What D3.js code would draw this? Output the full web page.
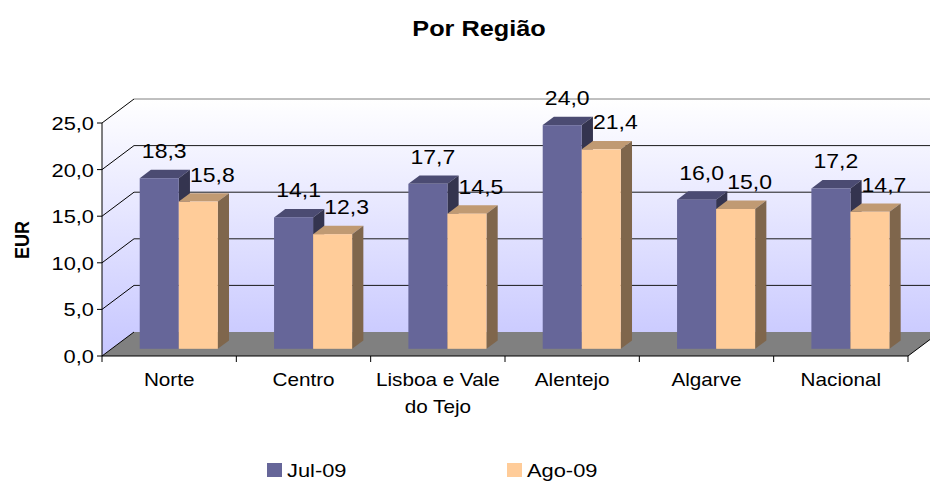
<!DOCTYPE html>
<html>
<head>
<meta charset="utf-8">
<script src="https://cdn.jsdelivr.net/npm/d3@7"></script>
<style>
  body { margin: 0; background: #fff; }
  text { font-family: Arial, "Liberation Sans", sans-serif; fill: #000; }
</style>
</head>
<body>
<div id="chart"></div>
<script>
var categories = ['Norte', 'Centro', 'Lisboa e Vale\ndo Tejo', 'Alentejo', 'Algarve', 'Nacional'];
var series = ['Jul-09', 'Ago-09'];
var jul = [18.3, 14.1, 17.7, 24.0, 16.0, 17.2];
var ago = [15.8, 12.3, 14.5, 21.4, 15.0, 14.7];
var yTicks = [0, 5, 10, 15, 20, 25];

var W = 930, H = 481;
var SX = 1.15; // the picture is a bit stretched sideways

// front plane of the plot, and the depth offset to the back wall
var plotLeft = 102, plotRight = 908, plotBottom = 356, plotTop = 123;
var depth = { x: 32, y: -24 };
var t0 = 0.3, t1 = 0.65; // bars sit between these depth fractions

var fill = {
  'Jul-09': { front: '#666699', top: '#4b4b72', side: '#34344f' },
  'Ago-09': { front: '#ffcc99', top: '#c09a73', side: '#7f664c' }
};

var loc = d3.formatLocale({ decimal: ',', thousands: '.', grouping: [3], currency: ['', ' €'] });
var fmt = loc.format('.1f');

var svg = d3.select('#chart').append('svg')
    .attr('width', W)
    .attr('height', H);

var x = d3.scaleBand().domain(categories).range([plotLeft, plotRight]);
var y = d3.scaleLinear().domain([0, 25]).range([plotBottom, plotTop]);
var xs = d3.scaleBand().domain(series).range([0, x.bandwidth()]).paddingOuter(0.72);

function stext(g, px, py, txt, size, anchor, weight, rot) {
  return g.append('text')
    .attr('transform', 'translate(' + px + ',' + py + ') scale(' + SX + ',1)' + (rot ? ' rotate(' + rot + ')' : ''))
    .attr('font-size', size)
    .attr('font-weight', weight || 'normal')
    .attr('text-anchor', anchor || 'start')
    .text(txt);
}

var defs = svg.append('defs');
var grad = defs.append('linearGradient')
    .attr('id', 'wall')
    .attr('gradientUnits', 'userSpaceOnUse')
    .attr('x1', 0).attr('x2', 0)
    .attr('y1', y(25) + depth.y).attr('y2', y(0));
grad.append('stop').attr('offset', '0%').attr('stop-color', '#ffffff');
grad.append('stop').attr('offset', '100%').attr('stop-color', '#c6c6ff');

// walls
var bx = plotLeft + depth.x, by = depth.y;
svg.append('polygon')
    .attr('points', [[bx, y(0) + by], [plotRight + depth.x, y(0) + by], [plotRight + depth.x, y(25) + by], [bx, y(25) + by]].join(' '))
    .attr('fill', 'url(#wall)');
svg.append('polygon')
    .attr('points', [[plotLeft, y(0)], [bx, y(0) + by], [bx, y(25) + by], [plotLeft, y(25)]].join(' '))
    .attr('fill', 'url(#wall)');

// floor
svg.append('polygon')
    .attr('points', [[plotLeft, y(0)], [plotRight, y(0)], [plotRight + depth.x, y(0) + by], [bx, y(0) + by]].join(' '))
    .attr('fill', '#808080');

// gridlines
yTicks.forEach(function (v) {
  if (v === 0) return;
  svg.append('line')
    .attr('x1', bx).attr('x2', plotRight + depth.x)
    .attr('y1', y(v) + by).attr('y2', y(v) + by)
    .attr('stroke', v === 25 ? '#808080' : '#1a1a1a')
    .attr('stroke-width', 1);
});
yTicks.forEach(function (v) {
  svg.append('line')
    .attr('x1', plotLeft).attr('y1', y(v))
    .attr('x2', bx).attr('y2', y(v) + by)
    .attr('stroke', '#000').attr('stroke-width', 1);
});

// front axes
svg.append('line').attr('x1', plotLeft).attr('x2', plotLeft).attr('y1', y(0)).attr('y2', y(25)).attr('stroke', '#000');
svg.append('line').attr('x1', plotLeft).attr('x2', plotRight).attr('y1', y(0)).attr('y2', y(0)).attr('stroke', '#000');
svg.append('line').attr('x1', plotRight).attr('y1', y(0)).attr('x2', plotRight + depth.x).attr('y2', y(0) + by).attr('stroke', '#000');

yTicks.forEach(function (v) {
  svg.append('line').attr('x1', plotLeft - 5).attr('x2', plotLeft).attr('y1', y(v)).attr('y2', y(v)).attr('stroke', '#000');
  stext(svg, plotLeft - 8, y(v) + 7, fmt(v), 19, 'end');
});

categories.forEach(function (c, i) {
  svg.append('line').attr('x1', x(c)).attr('x2', x(c)).attr('y1', y(0)).attr('y2', y(0) + 6).attr('stroke', '#000');
  if (i === categories.length - 1) {
    svg.append('line').attr('x1', plotRight).attr('x2', plotRight).attr('y1', y(0)).attr('y2', y(0) + 6).attr('stroke', '#000');
  }
  c.split('\n').forEach(function (line, k) {
    stext(svg, x(c) + x.bandwidth() / 2, 386 + k * 27, line, 18, 'middle');
  });
});

// bars
var d0 = { x: depth.x * t0, y: depth.y * t0 };
var d1 = { x: depth.x * t1, y: depth.y * t1 };
var barData = [];
categories.forEach(function (c, i) {
  barData.push({ cat: c, s: 'Jul-09', v: jul[i] });
  barData.push({ cat: c, s: 'Ago-09', v: ago[i] });
});

var bars = svg.append('g').selectAll('g').data(barData).enter().append('g');
bars.each(function (d) {
  var g = d3.select(this);
  var x0 = x(d.cat) + xs(d.s), w = xs.bandwidth();
  var yt = y(d.v), yb = y(0);
  g.append('polygon')
    .attr('points', [[x0 + d0.x, yt + d0.y], [x0 + w + d0.x, yt + d0.y], [x0 + w + d1.x, yt + d1.y], [x0 + d1.x, yt + d1.y]].join(' '))
    .attr('fill', fill[d.s].top);
  g.append('polygon')
    .attr('points', [[x0 + w + d0.x, yt + d0.y], [x0 + w + d1.x, yt + d1.y], [x0 + w + d1.x, yb + d1.y], [x0 + w + d0.x, yb + d0.y]].join(' '))
    .attr('fill', fill[d.s].side);
  g.append('rect')
    .attr('x', x0 + d0.x).attr('y', yt + d0.y)
    .attr('width', w).attr('height', yb - yt)
    .attr('fill', fill[d.s].front);
});

// data labels
barData.forEach(function (d) {
  var cx = x(d.cat) + xs(d.s) + xs.bandwidth() / 2 + d0.x + (d.s === 'Jul-09' ? 5 : 14);
  stext(svg, cx, y(d.v) + d0.y - 20, fmt(d.v), 20, 'middle');
});

// title and axis title
stext(svg, 479, 36, 'Por Região', 22, 'middle', 'bold');
stext(svg, 29, 240, 'EUR', 18, 'middle', 'bold', -90);

// legend
var legX = [267, 507];
series.forEach(function (s, i) {
  svg.append('rect').attr('x', legX[i]).attr('y', 463).attr('width', 15).attr('height', 14).attr('fill', fill[s].front);
  stext(svg, legX[i] + 20, 477, s, 19, 'start');
});
</script>
</body>
</html>
